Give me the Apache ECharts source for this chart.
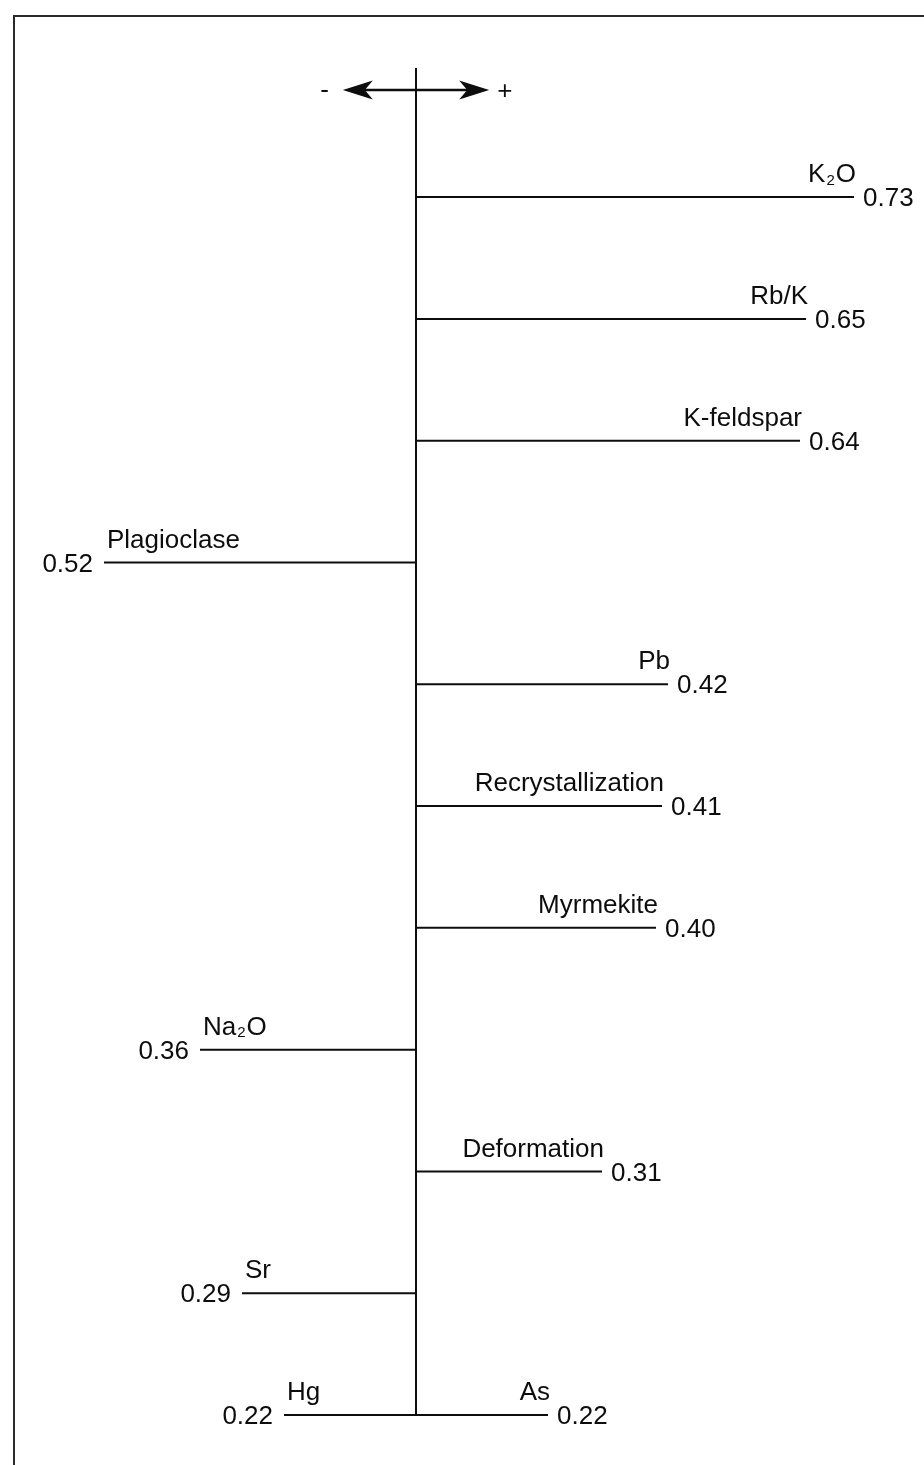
<!DOCTYPE html>
<html><head><meta charset="utf-8">
<script src="https://cdn.jsdelivr.net/npm/echarts@6/dist/echarts.min.js"></script>
<style>html,body{margin:0;padding:0;background:#fff}#c{width:924px;height:1465px}</style>
</head><body><div id="c"></div>
<script>
// Data
const names = ['K{s|2}O','Rb/K','K-feldspar','Plagioclase','Pb','Recrystallization','Myrmekite','Na{s|2}O','Deformation','Sr','Hg','As'];
const rows = [0,1,2,3,4,5,6,7,8,9,10,10];
const values = [0.73,0.65,0.64,-0.52,0.42,0.41,0.40,-0.36,0.31,-0.29,-0.22,0.22];
const signLabels = ['-','+'];
const axisTopRow = -1.06, axisBottomRow = 10;
const arrowRow = -0.88, arrowLen = 0.122;

const FONT = '"Liberation Sans", Arial, Helvetica, sans-serif';
const INK = '#0d0d0d';
const FS = 26;
const rich = { s: { fontSize: 15, fontFamily: FONT, fill: INK, color: INK, verticalAlign: 'bottom', lineHeight: 15, padding: [0,1,0,1] } };

const chart = echarts.init(document.getElementById('c'), null, { renderer: 'canvas' });

function renderRow(params, api) {
  const row = api.value(0), v = api.value(1), i = params.dataIndex;
  const p0 = api.coord([0, row]), p1 = api.coord([v, row]);
  const right = v > 0;
  return {
    type: 'group',
    children: [
      { type: 'line', shape: { x1: p0[0], y1: p0[1], x2: p1[0], y2: p1[1] }, style: { stroke: INK, lineWidth: 2 } },
      { type: 'text', style: { text: names[i], rich: rich, x: right ? p1[0] + 2 : p1[0] + 3, y: p1[1] - 9,
          align: right ? 'right' : 'left', verticalAlign: 'bottom', fontSize: FS, fontFamily: FONT, fill: INK } },
      { type: 'text', style: { text: Math.abs(v).toFixed(2), x: right ? p1[0] + 9 : p1[0] - 11, y: p1[1] + 2,
          align: right ? 'left' : 'right', verticalAlign: 'middle', fontSize: FS, fontFamily: FONT, fill: INK } }
    ]
  };
}

function renderAxis(params, api) {
  const top = api.coord([0, axisTopRow]), bot = api.coord([0, axisBottomRow]);
  const a = api.coord([0, arrowRow]);
  const l = api.coord([-arrowLen, arrowRow]), r = api.coord([arrowLen, arrowRow]);
  const y = a[1], hl = 30, hw = 9.5, notch = 8;
  return {
    type: 'group',
    children: [
      { type: 'line', shape: { x1: top[0], y1: top[1], x2: bot[0], y2: bot[1] }, style: { stroke: INK, lineWidth: 2 } },
      { type: 'line', shape: { x1: a[0], y1: y, x2: l[0] + hl - notch, y2: y }, style: { stroke: INK, lineWidth: 2.5 } },
      { type: 'line', shape: { x1: a[0], y1: y, x2: r[0] - hl + notch, y2: y }, style: { stroke: INK, lineWidth: 2.5 } },
      { type: 'polygon', shape: { points: [[l[0], y], [l[0] + hl, y - hw], [l[0] + hl - notch, y], [l[0] + hl, y + hw]] }, style: { fill: INK } },
      { type: 'polygon', shape: { points: [[r[0], y], [r[0] - hl, y - hw], [r[0] - hl + notch, y], [r[0] - hl, y + hw]] }, style: { fill: INK } },
      { type: 'text', style: { text: signLabels[0], x: l[0] - 14, y: y + 1, align: 'right', verticalAlign: 'middle', fontSize: FS, fontFamily: FONT, fill: INK } },
      { type: 'text', style: { text: signLabels[1], x: r[0] + 8, y: y + 2, align: 'left', verticalAlign: 'middle', fontSize: FS, fontFamily: FONT, fill: INK } }
    ]
  };
}

chart.setOption({
  animation: false,
  backgroundColor: '#fff',
  grid: { left: 56, right: 28, top: 68, bottom: 50 },
  xAxis: { type: 'value', min: -0.6, max: 0.8, show: false },
  yAxis: { type: 'value', min: axisTopRow, max: axisBottomRow, inverse: true, show: false },
  graphic: [
    { type: 'rect', shape: { x: 14, y: 16, width: 1000, height: 1600 }, style: { fill: 'none', stroke: '#2a2a2a', lineWidth: 2 }, silent: true }
  ],
  series: [
    { type: 'custom', renderItem: renderAxis, data: [[0, 0]], encode: { x: 0, y: 1 }, silent: true, clip: false },
    { type: 'custom', renderItem: renderRow, data: rows.map((r, i) => [r, values[i]]), encode: { x: 1, y: 0 }, silent: true, clip: false }
  ]
});
</script>
</body></html>
